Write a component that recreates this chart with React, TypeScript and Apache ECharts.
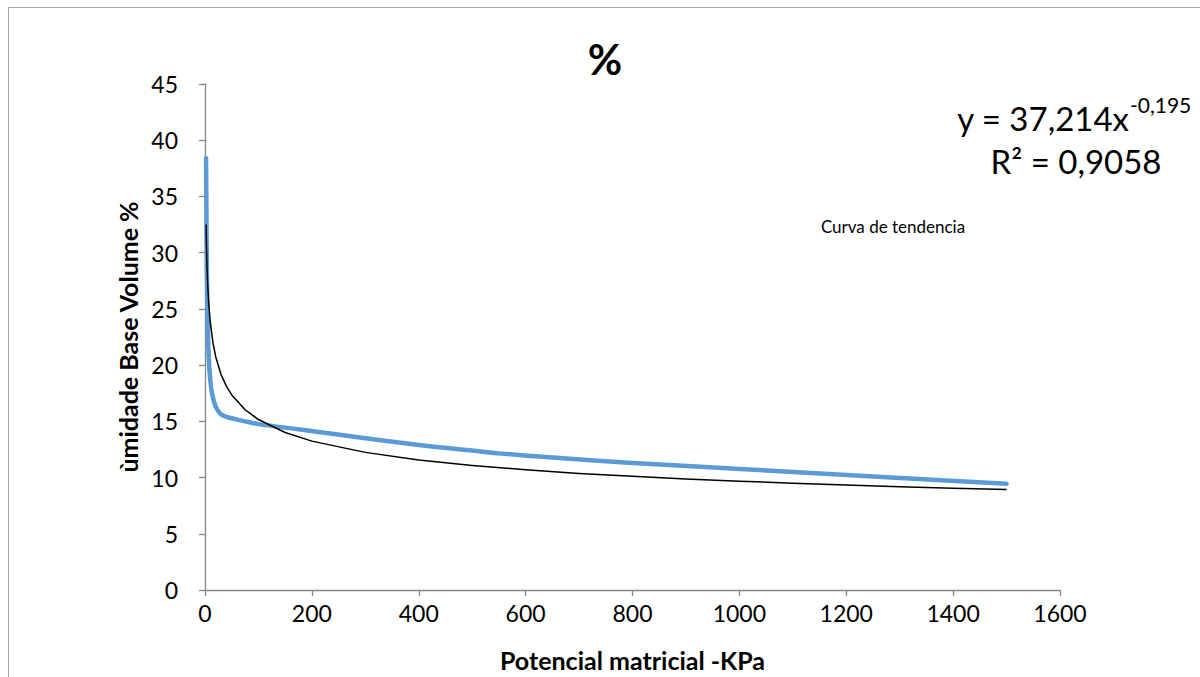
import React, { useEffect, useRef } from "react";
import * as echarts from "echarts";

const xTicks = [0, 200, 400, 600, 800, 1000, 1200, 1400, 1600];
const yTicks = [0, 5, 10, 15, 20, 25, 30, 35, 40, 45];

// Measured curve (Potencial matricial kPa -> umidade %)
const dataX = [2, 3, 4, 5, 6, 7, 8, 10, 12, 15.5, 20, 25, 30, 40, 50, 75, 100, 178, 318, 400, 458, 500, 550, 645, 785, 1019, 1267, 1500];
const dataY = [38.4, 31, 26.5, 24, 22, 20.7, 19.8, 18.6, 17.8, 17.0, 16.3, 15.9, 15.62, 15.4, 15.27, 15.0, 14.75, 14.27, 13.38, 12.9, 12.6, 12.4, 12.15, 11.8, 11.34, 10.72, 10.06, 9.45];

// Trend curve
const trendX = [2, 3, 4, 5, 7, 10, 15, 20, 30, 40, 50, 75, 100, 150, 200, 300, 400, 500, 600, 700, 800, 900, 1000, 1100, 1200, 1300, 1400, 1500];
const trendY = [32.5, 30.04, 28.4, 27.19, 25.46, 23.75, 21.95, 20.75, 19.17, 18.13, 17.35, 16.03, 15.16, 14.01, 13.24, 12.24, 11.57, 11.08, 10.69, 10.37, 10.11, 9.88, 9.68, 9.5, 9.34, 9.19, 9.06, 8.94];

const FONT = "Lato, 'Open Sans', sans-serif";

export default function App() {
  const ref = useRef<HTMLDivElement>(null);
  useEffect(() => {
    document.body.style.margin = "0";
    const chart = echarts.init(ref.current!, null, { renderer: "svg" });
    const axisColor = "#868686";
    chart.setOption({
      animation: false,
      backgroundColor: "#ffffff",
      title: {
        text: "%",
        left: 600,
        top: 33,
        textAlign: "center",
        textStyle: { fontFamily: FONT, fontSize: 42, fontWeight: "bold", color: "#000" },
      },
      grid: { left: 205, right: 140, top: 84, bottom: 87 },
      xAxis: {
        type: "value",
        min: xTicks[0],
        max: xTicks[xTicks.length - 1],
        interval: xTicks[1] - xTicks[0],
        name: "Potencial matricial -KPa",
        nameLocation: "middle",
        nameGap: 57,
        nameTextStyle: { fontFamily: FONT, fontSize: 25, fontWeight: "bold", color: "#000" },
        axisLine: { show: true, lineStyle: { color: axisColor, width: 1.3 } },
        axisTick: { show: true, length: 6, lineStyle: { color: axisColor, width: 1.3 } },
        axisLabel: { margin: 11, fontFamily: FONT, fontSize: 23, color: "#000", formatter: (v: number) => String(v) },
        splitLine: { show: false },
      },
      yAxis: {
        type: "value",
        min: yTicks[0],
        max: yTicks[yTicks.length - 1],
        interval: yTicks[1] - yTicks[0],
        name: "ùmidade Base Volume %",
        nameLocation: "middle",
        nameGap: 62,
        nameTextStyle: { fontFamily: FONT, fontSize: 25, fontWeight: "bold", color: "#000" },
        axisLine: { show: true, lineStyle: { color: axisColor, width: 1.3 } },
        axisTick: { show: true, length: 6, lineStyle: { color: axisColor, width: 1.3 } },
        axisLabel: { margin: 27, fontFamily: FONT, fontSize: 23, color: "#000", formatter: (v: number) => String(v) },
        splitLine: { show: false },
      },
      series: [
        {
          type: "line",
          data: dataX.map((x, i) => [x, dataY[i]]),
          showSymbol: false,
          smooth: 0.2,
          lineStyle: { color: "#5B9BD5", width: 4.5, join: "round", cap: "round" },
          z: 2,
        },
        {
          type: "line",
          data: trendX.map((x, i) => [x, trendY[i]]),
          showSymbol: false,
          smooth: false,
          lineStyle: { color: "#000000", width: 1.5, join: "round" },
          z: 3,
        },
      ],
      graphic: [
        {
          type: "rect",
          shape: { x: 8.5, y: 7.5, width: 1220, height: 720 },
          style: { fill: "none", stroke: "#a6a6a6", lineWidth: 1 },
          silent: true,
        },
        {
          type: "text",
          x: 1129,
          y: 118,
          style: {
            text: "y = 37,214x",
            fontFamily: FONT,
            fontSize: 33,
            fill: "#000",
            textAlign: "right",
            textVerticalAlign: "middle",
          },
        },
        {
          type: "text",
          x: 1130,
          y: 104,
          style: {
            text: "-0,195",
            fontFamily: FONT,
            fontSize: 21,
            fill: "#000",
            textAlign: "left",
            textVerticalAlign: "middle",
          },
        },
        {
          type: "text",
          x: 1076,
          y: 161,
          style: {
            text: "R² = 0,9058",
            fontFamily: FONT,
            fontSize: 33,
            fill: "#000",
            textAlign: "center",
            textVerticalAlign: "middle",
          },
        },
        {
          type: "text",
          x: 893,
          y: 226,
          style: {
            text: "Curva de tendencia",
            fontFamily: FONT,
            fontSize: 17,
            fill: "#000",
            textAlign: "center",
            textVerticalAlign: "middle",
          },
        },
      ],
    });
    return () => chart.dispose();
  }, []);
  return <div ref={ref} style={{ width: 1200, height: 677 }} />;
}
